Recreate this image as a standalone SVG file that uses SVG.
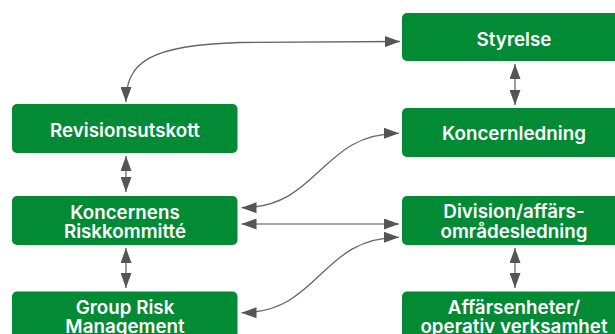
<svg xmlns="http://www.w3.org/2000/svg" width="615" height="334" viewBox="0 0 615 334">
<defs>
<style>
.box{fill:#028a35}
.t{fill:#fff;font-family:Inter,"Liberation Sans",sans-serif;font-weight:600;font-size:18.8px;text-anchor:middle}
.c{fill:none;stroke:#666;stroke-width:1.3}
.s{fill:none;stroke:#888;stroke-width:1.6}
</style>
<marker id="ah" viewBox="0 0 15 11" markerWidth="15" markerHeight="11" refX="15" refY="5.5" orient="auto-start-reverse" markerUnits="userSpaceOnUse">
<path d="M0,0 L15,5.5 L0,11 z" fill="#555"/>
</marker>
</defs>
<rect width="615" height="334" fill="#fff"/>
<g id="styrelse"><rect class="box" x="402" y="13" width="225" height="48" rx="5"/><text class="t" x="514" y="46">Styrelse</text></g>
<g id="revisionsutskott"><rect class="box" x="12" y="104" width="225.5" height="49" rx="5"/><text class="t" x="125" y="136.7">Revisionsutskott</text></g>
<g id="koncernledning"><rect class="box" x="402" y="108" width="225" height="49" rx="5"/><text class="t" x="514" y="140">Koncernledning</text></g>
<g id="riskkommitte"><rect class="box" x="12" y="196" width="225.5" height="49" rx="5"/><text class="t" x="125" y="219.3">Koncernens</text><text class="t" x="125" y="238.3">Riskkommitté</text></g>
<g id="division"><rect class="box" x="402" y="196" width="225" height="49" rx="5"/><text class="t" x="514" y="217.7">Division/affärs-</text><text class="t" x="514" y="237.7">områdesledning</text></g>
<g id="grm"><rect class="box" x="12" y="291.5" width="225.5" height="50" rx="5"/><text class="t" x="125" y="313.7">Group Risk</text><text class="t" x="125" y="332.5">Management</text></g>
<g id="affarsenheter"><rect class="box" x="402" y="291.5" width="225" height="50" rx="5"/><text class="t" x="514" y="313.7">Affärsenheter/</text><text class="t" x="514" y="332.5">operativ verksamhet</text></g>
<g id="connectors">
<path class="c" d="M400,41.5 L240,42.5 C150,45 126,62 126,102" marker-start="url(#ah)" marker-end="url(#ah)"/>
<path class="c" d="M515,64 L515,105" marker-start="url(#ah)" marker-end="url(#ah)"/>
<path class="c" d="M126,156 L126,192" marker-start="url(#ah)" marker-end="url(#ah)"/>
<path class="c" d="M126,248 L126,288" marker-start="url(#ah)" marker-end="url(#ah)"/>
<path class="c" d="M515,248 L515,288" marker-start="url(#ah)" marker-end="url(#ah)"/>
<path class="c" d="M241.5,207.7 C320,207.7 320,133.3 399,133.3" marker-start="url(#ah)" marker-end="url(#ah)"/>
<path class="s" d="M241.5,224 L399,224" marker-start="url(#ah)" marker-end="url(#ah)"/>
<path class="c" d="M241.5,312.7 C320,312.7 320,237.3 399,237.3" marker-start="url(#ah)" marker-end="url(#ah)"/>
</g>
</svg>
